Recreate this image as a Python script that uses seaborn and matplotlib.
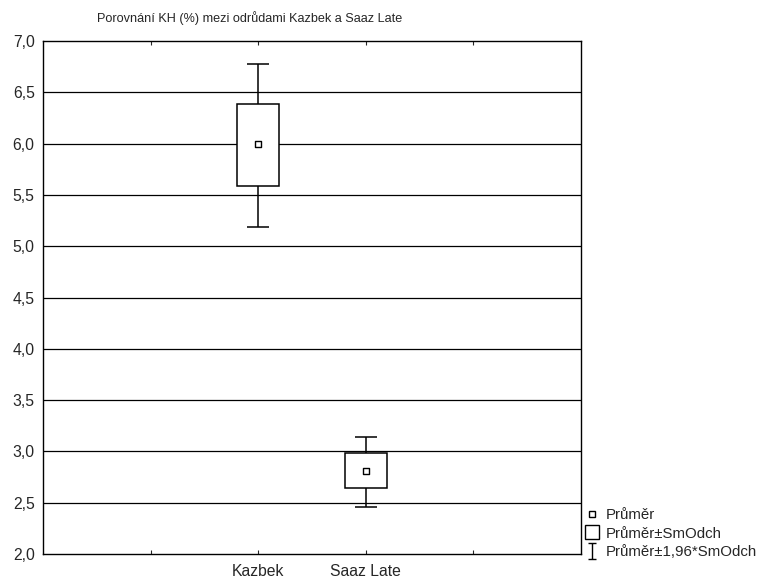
import numpy as np
import pandas as pd
import matplotlib
matplotlib.use("Agg")
import matplotlib.pyplot as plt
import seaborn as sns
from matplotlib.path import Path
from matplotlib.lines import Line2D

# ---- data ----
categories = ["Kazbek", "Saaz Late"]
means = [6.00, 2.81]
box_low = [5.59, 2.64]      # mean - SD
box_high = [6.39, 2.98]     # mean + SD
whisk_low = [5.19, 2.46]    # mean - 1.96*SD
whisk_high = [6.78, 3.14]   # mean + 1.96*SD
positions = [2, 3]
title = "Porovnání KH (%) mezi odrůdami Kazbek a Saaz Late"
legend_labels = ["Průměr", "Průměr±SmOdch", "Průměr±1,96*SmOdch"]

sns.set_style("white")
plt.rcParams["font.family"] = ["Liberation Sans", "DejaVu Sans"]

W, H = 765, 578
fig = plt.figure(figsize=(W / 100, H / 100), dpi=100)
ax = fig.add_axes([43 / W, (H - 554) / H, (581 - 43) / W, (554 - 41) / H])

df = pd.DataFrame({"pos": positions, "mean": means, "lo": box_low, "hi": box_high,
                   "wlo": whisk_low, "whi": whisk_high, "cat": categories})

# horizontal grid
ax.set_ylim(2.0, 7.0)
ax.set_xlim(0, 5)
yt = np.arange(2.0, 7.01, 0.5)
for y in yt[1:-1]:
    ax.axhline(y, color="black", lw=0.9, zorder=0)

# whiskers
ax.vlines(df["pos"], df["wlo"], df["whi"], color="black", lw=1.1, zorder=1)
ax.hlines(df["wlo"], df["pos"] - 0.1, df["pos"] + 0.1, color="black", lw=1.1, zorder=1)
ax.hlines(df["whi"], df["pos"] - 0.1, df["pos"] + 0.1, color="black", lw=1.1, zorder=1)
# boxes
ax.bar(df["pos"], df["hi"] - df["lo"], bottom=df["lo"], width=0.39,
       facecolor="white", edgecolor="black", lw=1.1, zorder=2)
# mean markers
sns.scatterplot(data=df, x="pos", y="mean", marker="s", s=18, color="white",
                edgecolor="black", linewidth=1.0, zorder=3, ax=ax, legend=False)

ax.set_xlabel("")
ax.set_ylabel("")
ax.set_yticks(yt)
ax.set_yticklabels([f"{v:.1f}".replace(".", ",") for v in yt], fontsize=11.3)
ax.set_xticks([1, 2, 3, 4])
ax.set_xticklabels(["", categories[0], categories[1], ""], fontsize=11.3)
ax.tick_params(axis="x", direction="in", length=3, width=0.8, top=True, bottom=True, pad=7)
ax.tick_params(axis="y", length=0, pad=6)
for s in ax.spines.values():
    s.set_color("black")
    s.set_linewidth(1.0)

fig.text(97 / W, 1 - 18 / H, title, fontsize=9.1, ha="left", va="center")

# legend with custom handles
ibeam = Path([(-0.5, 1), (0.5, 1), (0, 1), (0, -1), (-0.5, -1), (0.5, -1)],
             [Path.MOVETO, Path.LINETO, Path.MOVETO, Path.LINETO, Path.MOVETO, Path.LINETO])
handles = [
    Line2D([], [], ls="none", marker="s", markersize=4.5, markerfacecolor="white",
           markeredgecolor="black", markeredgewidth=1.0),
    Line2D([], [], ls="none", marker="s", markersize=10, markerfacecolor="white",
           markeredgecolor="black", markeredgewidth=1.0),
    Line2D([], [], ls="none", marker=ibeam, markersize=12, markerfacecolor="none",
           markeredgecolor="black", markeredgewidth=1.0),
]
fig.legend(handles, legend_labels, loc="lower left", bbox_to_anchor=(584 / W, 1 - 559 / H),
           frameon=False, fontsize=10.8, handlelength=1.0, handletextpad=0.45,
           labelspacing=0.3, borderpad=0, borderaxespad=0)

fig.savefig("out.png", dpi=100)
